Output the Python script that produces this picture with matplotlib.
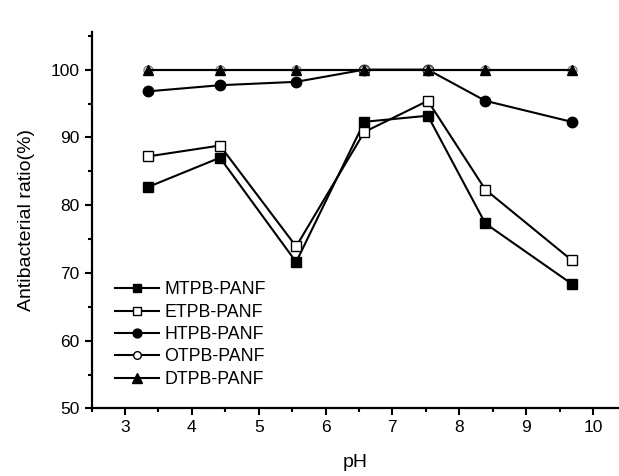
import numpy as np
import matplotlib.pyplot as plt

plt.rcParams['font.family'] = ['Liberation Sans', 'DejaVu Sans']

ph = [3.35, 4.42, 5.56, 6.58, 7.53, 8.39, 9.68]
mtpb = [82.7, 87.0, 71.6, 92.3, 93.2, 77.3, 68.4]
etpb = [87.2, 88.8, 73.9, 90.8, 95.4, 82.3, 71.9]
htpb = [96.8, 97.7, 98.2, 100.0, 100.0, 95.4, 92.3]
otpb = [100.0, 100.0, 100.0, 100.0, 100.0, 100.0, 100.0]
dtpb = [100.0, 100.0, 100.0, 100.0, 100.0, 100.0, 100.0]

fig = plt.figure(figsize=(6.19, 4.76), dpi=100)
ax = fig.add_axes([0.148, 0.142, 0.852, 0.790])

kw = dict(color='black', lw=1.5)
ax.plot(ph, mtpb, marker='s', ms=6.5, mfc='black', mec='black', label='MTPB-PANF', **kw)
ax.plot(ph, etpb, marker='s', ms=6.5, mfc='white', mec='black', mew=1.0, label='ETPB-PANF', **kw)
ax.plot(ph, htpb, marker='o', ms=7.5, mfc='black', mec='black', label='HTPB-PANF', **kw)
ax.plot(ph, otpb, marker='o', ms=6.5, mfc='white', mec='0.5', mew=1.0, label='OTPB-PANF', **kw)
ax.plot(ph, dtpb, marker='^', ms=7.8, mfc='black', mec='black', label='DTPB-PANF', **kw)

ax.set_xlim(2.5, 10.39)
ax.set_ylim(50, 105.5)
ax.set_xticks(range(3, 11))
ax.set_xticks(np.arange(2.5, 10.4, 0.5), minor=True)
ax.set_yticks(range(50, 101, 10))
ax.set_yticks(range(55, 106, 10), minor=True)

for s in ['top', 'right']:
    ax.spines[s].set_visible(False)
for s in ['left', 'bottom']:
    ax.spines[s].set_linewidth(1.6)
ax.tick_params(which='major', direction='out', length=5, width=1.5, labelsize=12.5)
ax.tick_params(which='minor', direction='out', length=3, width=1.5)

ax.set_xlabel('pH', fontsize=14)
ax.set_ylabel('Antibacterial ratio(%)', fontsize=14)
ax.xaxis.set_label_coords(0.5, -0.12)
ax.yaxis.set_label_coords(-0.107, 0.5)

leg = ax.legend(loc='lower left', bbox_to_anchor=(0.044, 0.055), frameon=False,
                fontsize=12.8, handlelength=2.5, handletextpad=0.3, labelspacing=0.3,
                borderpad=0, borderaxespad=0, markerscale=0.85)
leg.legend_handles[3].set_markeredgecolor('black')

fig.savefig('out.png', dpi=100)
